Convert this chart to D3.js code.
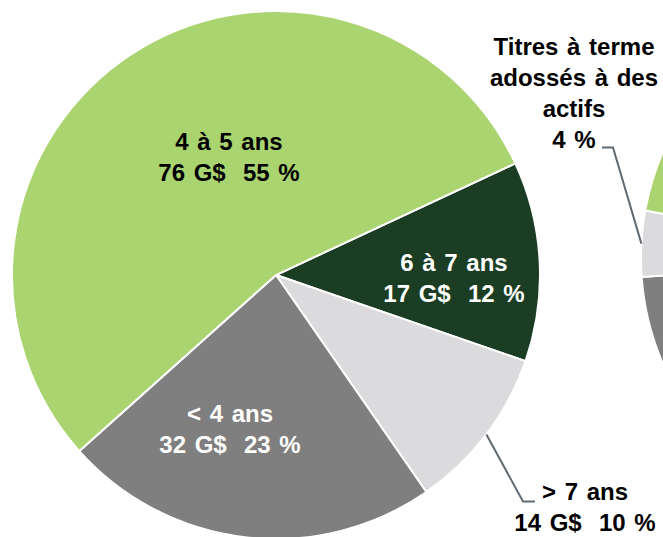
<!DOCTYPE html>
<html lang="fr">
<head>
<meta charset="utf-8">
<script src="https://d3js.org/d3.v7.min.js"></script>
<style>
  body { margin: 0; background: #fff; }
  text { font-family: "Liberation Sans", Arial, sans-serif; font-weight: bold; font-size: 24px; white-space: pre; word-spacing: 2px; }
</style>
</head>
<body>
<script>
    // main pie: term structure, clockwise from the green / dark green border
    var categories = ["6 à 7 ans", "> 7 ans", "< 4 ans", "4 à 5 ans"];
    var amounts = [17, 14, 32, 76];      // G$
    var shares = [12, 10, 23, 55];       // %
    var colors = ["#1a3d23", "#dbdbdd", "#7f7f7f", "#a9d46f"];
    var textColors = ["#fff", "#000", "#fff", "#000"];

    // second pie, cut by the right edge: only the 4 % slice is labelled
    var abCategories = ["autres", "Titres à terme adossés à des actifs", "autres "];
    var abShares = [46, 4, 50];
    var abColors = ["#7f7f7f", "#dbdbdd", "#a9d46f"];
    var abLabelLines = ["Titres à terme", "adossés à des", "actifs"];

    var width = 663, height = 537;
    var cx = 276, cy = 275, radius = 264;
    var cx2 = 907, cy2 = 258, radius2 = 266;
    var lineH = 31;
    var deg = Math.PI / 180;

    // label anchors relative to the pie centre (first baseline)
    var labelPos = [[178, -4], [309, 225], [-46, 147], [-47, -125]];

    var svg = d3.select("body").append("svg")
        .attr("width", width)
        .attr("height", height);

    var arc = d3.arc().innerRadius(0).outerRadius(radius);
    var pie = d3.pie().sort(null).value(function (d) { return d; })
        .startAngle(65 * deg).endAngle(65 * deg + 2 * Math.PI);
    var slices = pie(amounts);

    var arc2 = d3.arc().innerRadius(0).outerRadius(radius2);
    var pie2 = d3.pie().sort(null).value(function (d) { return d; })
        .startAngle(100.3 * deg).endAngle(100.3 * deg + 2 * Math.PI);
    var slices2 = pie2(abShares);

    // second pie
    svg.append("g")
        .attr("transform", "translate(" + cx2 + "," + cy2 + ")")
        .selectAll("path")
        .data(slices2)
        .enter()
        .append("path")
        .attr("d", arc2)
        .attr("fill", function (d, i) { return abColors[i]; })
        .attr("stroke", "#fff")
        .attr("stroke-width", 2);

    // main pie
    svg.append("g")
        .attr("transform", "translate(" + cx + "," + cy + ")")
        .selectAll("path")
        .data(slices)
        .enter()
        .append("path")
        .attr("d", arc)
        .attr("fill", function (d, i) { return colors[i]; })
        .attr("stroke", "#fff")
        .attr("stroke-width", 2);

    function edgePoint(d, r, x0, y0) {
        var a = (d.startAngle + d.endAngle) / 2;
        return [x0 + r * Math.sin(a), y0 - r * Math.cos(a)];
    }

    // labels
    var labels = svg.append("g")
        .selectAll("text")
        .data(slices)
        .enter()
        .append("text")
        .attr("text-anchor", "middle")
        .attr("fill", function (d, i) { return textColors[i]; })
        .attr("x", function (d, i) { return cx + labelPos[i][0]; })
        .attr("y", function (d, i) { return cy + labelPos[i][1]; });
    labels.append("tspan")
        .attr("x", function (d, i) { return cx + labelPos[i][0]; })
        .text(function (d, i) { return categories[i]; });
    labels.append("tspan")
        .attr("x", function (d, i) { return cx + labelPos[i][0]; })
        .attr("dy", lineH)
        .text(function (d, i) { return amounts[i] + " G$  " + shares[i] + " %"; });

    // leader for "> 7 ans"
    var lx = cx + labelPos[1][0], ly = cy + labelPos[1][1] + 1.5;
    var p = edgePoint(slices[1], radius, cx, cy);
    svg.append("path")
        .attr("d", d3.line()([p, [lx - 62, ly], [lx - 50, ly]]))
        .attr("fill", "none")
        .attr("stroke", "#5f6a72")
        .attr("stroke-width", 2);

    // label of the 4 % slice
    var abX = 574, abY = 55;
    var abText = svg.append("text")
        .attr("text-anchor", "middle")
        .attr("fill", "#000")
        .attr("x", abX)
        .attr("y", abY);
    abLabelLines.concat([abShares[1] + " %"]).forEach(function (t, i) {
        abText.append("tspan")
            .attr("x", abX)
            .attr("dy", i === 0 ? 0 : lineH)
            .text(t);
    });
    var by = abY + 3 * lineH - 0.5;
    var p2 = edgePoint(slices2[1], radius2, cx2, cy2);
    svg.append("path")
        .attr("d", d3.line()([[abX + 28, by], [abX + 39, by], p2]))
        .attr("fill", "none")
        .attr("stroke", "#5f6a72")
        .attr("stroke-width", 2);
</script>
</body>
</html>
